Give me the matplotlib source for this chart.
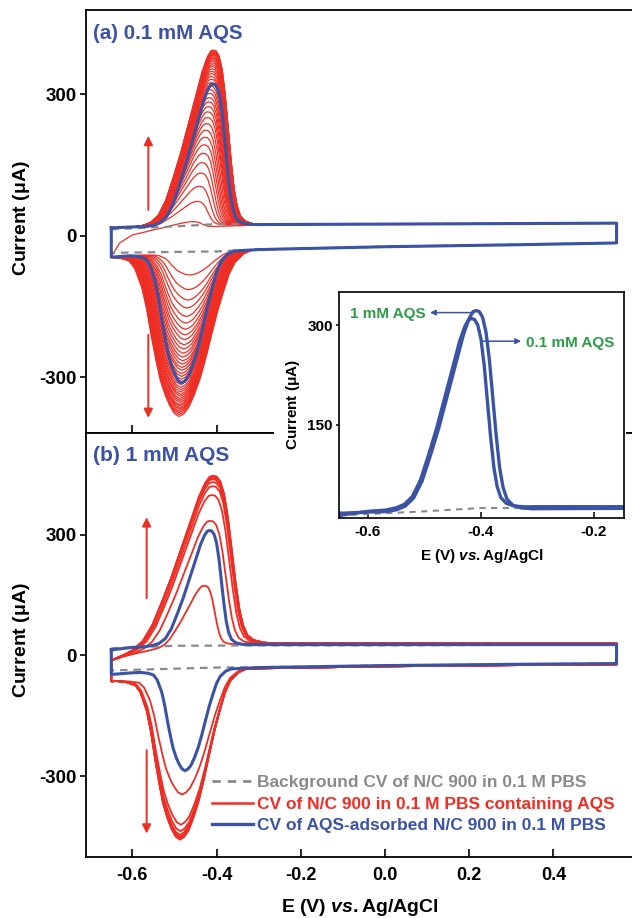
import numpy as np
import matplotlib
matplotlib.use('Agg')
import matplotlib.pyplot as plt
from matplotlib.patches import Rectangle
from matplotlib.lines import Line2D

plt.rcParams['font.family'] = ['Liberation Sans', 'DejaVu Sans']
plt.rcParams['font.weight'] = 'bold'
plt.rcParams['axes.unicode_minus'] = False
plt.rcParams['mathtext.fontset'] = 'custom'
plt.rcParams['mathtext.it'] = 'Liberation Sans:italic:bold'
plt.rcParams['mathtext.rm'] = 'Liberation Sans'

RED = '#ee2e24'
BLUE = '#3a53a4'
GRAY = '#8a8a8a'
GREEN = '#2e9b47'

# ------------------------------------------------------------------ data
E_MIN, E_MAX = -0.65, 0.55

# peak profiles (offset from peak potential, fraction of peak height)
anod_dE = [-0.16, -0.14, -0.125, -0.11, -0.095, -0.08, -0.065, -0.05, -0.035, -0.022,
           -0.012, -0.005, 0.0, 0.006, 0.012, 0.018, 0.024, 0.030, 0.036, 0.042,
           0.048, 0.055, 0.065, 0.08, 0.10]
anod_s = [0.0, 0.008, 0.025, 0.065, 0.15, 0.28, 0.42, 0.58, 0.74, 0.88,
          0.96, 0.995, 1.0, 0.995, 0.965, 0.89, 0.75, 0.56, 0.37, 0.21,
          0.11, 0.05, 0.02, 0.005, 0.0]
cath_dE = [-0.12, -0.10, -0.085, -0.075, -0.063, -0.055, -0.047, -0.039, -0.032, -0.024,
           -0.016, -0.008, 0.0, 0.008, 0.016, 0.026, 0.036, 0.046, 0.055, 0.065,
           0.075, 0.085, 0.095, 0.11, 0.125]
cath_s = [0.0, 0.01, 0.03, 0.08, 0.20, 0.33, 0.50, 0.65, 0.77, 0.86,
          0.93, 0.98, 1.0, 0.985, 0.95, 0.87, 0.77, 0.64, 0.51, 0.37,
          0.25, 0.14, 0.07, 0.02, 0.0]

# ---- panel (a): 0.1 mM AQS
a_up_E = [-0.65, -0.6, -0.5, -0.4, -0.3, 0.0, 0.55]
a_up_I = [17, 19, 21, 23, 24, 25, 27]
a_dn_E = [-0.65, -0.6, -0.5, -0.4, -0.3, 0.0, 0.3, 0.55]
a_dn_I = [-45, -42, -38, -34, -29, -23, -19, -15]
a_first_up_E = [-0.65, -0.63, -0.6, -0.55, -0.5, -0.4, -0.3, 0.0, 0.55]
a_first_up_I = [-44, -15, 2, 12, 16, 20, 23, 25, 27]

a_red_anod_peak = [30, 73, 105, 133, 155, 175, 193, 209, 224, 238,
                   251, 263, 274, 284, 293, 302, 310, 318, 325, 332,
                   338, 344, 349, 354, 359, 363, 367, 371, 374, 377,
                   380, 383, 385, 387, 389, 391, 393, 394]
a_red_anod_E = [-0.460, -0.447, -0.442, -0.438, -0.435, -0.432, -0.430, -0.428, -0.426, -0.424,
                -0.422, -0.421, -0.420, -0.419, -0.418, -0.417, -0.416, -0.415, -0.414, -0.413,
                -0.413, -0.412, -0.412, -0.411, -0.411, -0.410, -0.410, -0.410, -0.409, -0.409,
                -0.409, -0.409, -0.408, -0.408, -0.408, -0.408, -0.408, -0.408]
a_red_cath_peak = [-83, -114, -136, -153, -171, -185, -198, -210, -220, -231,
                   -240, -249, -257, -265, -272, -279, -285, -292, -298, -304,
                   -310, -315, -321, -326, -331, -336, -340, -345, -349, -353,
                   -358, -361, -365, -368, -372, -375, -379, -383]
a_red_cath_E = [-0.463, -0.466, -0.468, -0.470, -0.472, -0.473, -0.474, -0.475, -0.476, -0.477,
                -0.478, -0.479, -0.480, -0.480, -0.481, -0.482, -0.482, -0.483, -0.483, -0.484,
                -0.484, -0.485, -0.485, -0.485, -0.486, -0.486, -0.486, -0.487, -0.487, -0.487,
                -0.488, -0.488, -0.488, -0.488, -0.489, -0.489, -0.489, -0.489]
a_blue_anod = (322, -0.409)
a_blue_cath = (-312, -0.483)

a_bg_up_E = [-0.65, -0.5, -0.4, -0.3, 0.0, 0.55]
a_bg_up_I = [14, 20, 25, 25, 25, 27]
a_bg_dn_E = [-0.65, -0.5, -0.4, -0.3, 0.0, 0.55]
a_bg_dn_I = [-36, -34, -33, -29, -23, -15]

# ---- panel (b): 1 mM AQS
b_up_E = [-0.65, -0.6, -0.55, -0.5, -0.4, -0.3, 0.0, 0.55]
b_up_I = [14, 20, 23, 24, 26, 27, 27, 27]
b_dn_E = [-0.65, -0.6, -0.5, -0.4, -0.3, 0.0, 0.3, 0.55]
b_dn_I = [-47, -43, -39, -35, -30, -25, -22, -20]
b_red_up_E = [-0.65, -0.62, -0.58, -0.55, -0.5, -0.4, -0.3, 0.0, 0.55]
b_red_up_I = [-12, -2, 8, 14, 20, 26, 30, 30, 30]
b_red_dn_E = [-0.65, -0.6, -0.55, -0.5, -0.4, -0.3, 0.0, 0.3, 0.55]
b_red_dn_I = [-64, -62, -50, -42, -36, -32, -27, -24, -22]

b_red_anod_peak = [173, 334, 398, 420, 430, 437, 441, 444, 446]
b_red_anod_E = [-0.430, -0.416, -0.412, -0.410, -0.410, -0.410, -0.409, -0.409, -0.409]
b_red_anod_w = [0.85, 1.25, 1.4, 1.45, 1.5, 1.5, 1.5, 1.5, 1.5]
b_red_cath_peak = [-345, -420, -436, -445, -450, -453, -455, -456, -457]
b_red_cath_E = [-0.482, -0.485, -0.486, -0.487, -0.487, -0.487, -0.487, -0.487, -0.487]
b_red_cath_w = [1.2, 1.25, 1.25, 1.25, 1.25, 1.25, 1.25, 1.25, 1.25]
b_blue_anod = (310, -0.417)
b_blue_cath = (-286, -0.475)

b_bg_up_E = [-0.65, -0.5, -0.3, 0.0, 0.55]
b_bg_up_I = [18, 24, 25, 25, 27]
b_bg_dn_E = [-0.65, -0.4, -0.3, 0.0, 0.55]
b_bg_dn_I = [-37, -30, -29, -25, -20]

legend_labels = ['Background CV of N/C 900 in 0.1 M PBS',
                 'CV of N/C 900 in 0.1 M PBS containing AQS',
                 'CV of AQS-adsorbed N/C 900 in 0.1 M PBS']


# ------------------------------------------------------------------ helpers
def branch(base_E, base_I, Ep, peak, w, dE, s, sign):
    base_E = np.asarray(base_E, float)
    base_I = np.asarray(base_I, float)
    pe = Ep + w * np.asarray(dE, float)
    inside = pe[(pe > E_MIN) & (pe < E_MAX)]
    E = np.unique(np.concatenate([base_E, inside]))
    b = np.interp(E, base_E, base_I)
    amp = abs(peak - np.interp(Ep, base_E, base_I))
    prof = np.interp(E, pe, s, left=0, right=0)
    return E, b + sign * amp * prof


def loop(upE, upI, ap, aE, aw, dnE, dnI, cp, cE, cw):
    E1, I1 = branch(upE, upI, aE, ap, aw, anod_dE, anod_s, 1)
    E2, I2 = branch(dnE, dnI, cE, cp, cw, cath_dE, cath_s, -1)
    x = np.concatenate([E1, E2[::-1], E1[:1]])
    y = np.concatenate([I1, I2[::-1], I1[:1]])
    return x, y


def bg_loop(uE, uI, dE, dI):
    x = np.concatenate([uE, dE[::-1], uE[:1]])
    y = np.concatenate([uI, dI[::-1], uI[:1]])
    return x, y


# ------------------------------------------------------------------ figure
fig = plt.figure(figsize=(6.32, 9.18), dpi=100)
W, H = 632.0, 918.0
ax_a = fig.add_axes([86 / W, 1 - 433 / H, 551.6 / W, 423 / H])
ax_b = fig.add_axes([86 / W, 1 - 857 / H, 551.6 / W, 424 / H])

# panel (a)
amax = max(a_red_anod_peak)
cmax = max(abs(v) for v in a_red_cath_peak)
for i in range(len(a_red_anod_peak)):
    upE, upI = (a_first_up_E, a_first_up_I) if i == 0 else (a_up_E, a_up_I)
    aw = 0.8 + 0.38 * a_red_anod_peak[i] / amax
    cw = 0.8 + 0.6 * abs(a_red_cath_peak[i]) / cmax
    x, y = loop(upE, upI, a_red_anod_peak[i], a_red_anod_E[i], aw,
                a_dn_E, a_dn_I, a_red_cath_peak[i], a_red_cath_E[i], cw)
    ax_a.plot(x, y, color=RED, lw=0.9, zorder=2)
x, y = bg_loop(a_bg_up_E, a_bg_up_I, a_bg_dn_E, a_bg_dn_I)
ax_a.plot(x, y, color=GRAY, lw=1.6, dashes=(3.4, 2.6), zorder=3)
xa_blue, ya_blue = loop(a_up_E, a_up_I, a_blue_anod[0], a_blue_anod[1], 1.0,
                        a_dn_E, a_dn_I, a_blue_cath[0], a_blue_cath[1], 1.0)
ax_a.plot(xa_blue, ya_blue, color=BLUE, lw=2.2, zorder=4)

# panel (b)
for i in range(len(b_red_anod_peak)):
    x, y = loop(b_red_up_E, b_red_up_I, b_red_anod_peak[i], b_red_anod_E[i], b_red_anod_w[i],
                b_red_dn_E, b_red_dn_I, b_red_cath_peak[i], b_red_cath_E[i], b_red_cath_w[i])
    ax_b.plot(x, y, color=RED, lw=1.3, zorder=2)
x, y = bg_loop(b_bg_up_E, b_bg_up_I, b_bg_dn_E, b_bg_dn_I)
ax_b.plot(x, y, color=GRAY, lw=1.6, dashes=(3.4, 2.6), zorder=3)
xb_blue, yb_blue = loop(b_up_E, b_up_I, b_blue_anod[0], b_blue_anod[1], 0.95,
                        b_dn_E, b_dn_I, b_blue_cath[0], b_blue_cath[1], 0.88)
ax_b.plot(xb_blue, yb_blue, color=BLUE, lw=2.2, zorder=4)

# arrows
arr = dict(arrowstyle='-|>', color=RED, lw=1.4, mutation_scale=13, shrinkA=0, shrinkB=0)
ax_a.annotate('', xy=(-0.562, 212), xytext=(-0.562, 55), arrowprops=arr)
ax_a.annotate('', xy=(-0.562, -386), xytext=(-0.562, -210), arrowprops=arr)
ax_b.annotate('', xy=(-0.566, 343), xytext=(-0.566, 142), arrowprops=arr)
ax_b.annotate('', xy=(-0.566, -442), xytext=(-0.566, -235), arrowprops=arr)

for ax, ylim in ((ax_a, (-418, 479)), (ax_b, (-500, 552))):
    ax.set_xlim(-0.71, 0.6)
    ax.set_ylim(*ylim)
    ax.set_xticks([-0.6, -0.4, -0.2, 0.0, 0.2, 0.4])
    ax.set_yticks([-300, 0, 300])
    ax.tick_params(axis='x', direction='in', length=6, width=1.2, pad=7, labelsize=13)
    ax.tick_params(axis='y', direction='out', length=4.5, width=1.2, pad=2, labelsize=13.5)
    for sp in ax.spines.values():
        sp.set_linewidth(1.3)
ax_a.tick_params(axis='x', labelbottom=False)

ax_a.text(0.0127, 0.9456, '(a) 0.1 mM AQS', transform=ax_a.transAxes, color=BLUE,
          fontsize=14.8, fontweight='bold', ha='left', va='center')
ax_b.text(0.0127, 0.948, '(b) 1 mM AQS', transform=ax_b.transAxes, color=BLUE,
          fontsize=15, fontweight='bold', ha='left', va='center')

handles = [Line2D([], [], color=GRAY, lw=2.0, dashes=(3.0, 2.5)),
           Line2D([], [], color=RED, lw=1.8),
           Line2D([], [], color=BLUE, lw=2.4)]
ax_b.legend(handles, legend_labels, loc='lower left', bbox_to_anchor=(0.2284, 0.0566),
            frameon=False, handlelength=2.35, handletextpad=0.25,
            labelspacing=0.36, borderpad=0, borderaxespad=0,
            labelcolor=[GRAY, RED, BLUE], prop={'weight': 'bold', 'size': 12.5})

fig.text(22 / W, 1 - 218 / H, r'Current $\mathrm{(μA)}$', rotation=90, ha='center', va='center',
         fontsize=14, fontweight='bold')
fig.text(22 / W, 1 - 640 / H, r'Current $\mathrm{(μA)}$', rotation=90, ha='center', va='center',
         fontsize=14, fontweight='bold')
fig.text(360 / W, 1 - 908 / H, r'E (V) $\mathit{vs.}$Ag/AgCl', ha='center', va='center',
         fontsize=14, fontweight='bold')

# white box behind the inset
fig.add_artist(Rectangle((274 / W, 1 - 570 / H), (626 - 274) / W, (570 - 262) / H,
                         transform=fig.transFigure, facecolor='white', edgecolor='none',
                         zorder=1))

# inset
ax_in = fig.add_axes([339 / W, 1 - 518 / H, 285 / W, 226 / H])
ax_in.set_zorder(2)
x, y = bg_loop(a_bg_up_E, a_bg_up_I, a_bg_dn_E, a_bg_dn_I)
ax_in.plot(x, y, color=GRAY, lw=1.5, dashes=(3.0, 2.6))
ax_in.plot(xb_blue, yb_blue, color=BLUE, lw=2.4)
ax_in.plot(xa_blue, ya_blue, color=BLUE, lw=2.4)
ax_in.set_xlim(-0.651, -0.147)
ax_in.set_ylim(10, 350)
ax_in.set_xticks([-0.6, -0.4, -0.2])
ax_in.set_yticks([150, 300])
ax_in.tick_params(axis='x', direction='in', length=4, width=1.1, pad=5, labelsize=11)
ax_in.tick_params(axis='y', direction='out', length=2.5, width=1.1, pad=2, labelsize=11)
for sp in ax_in.spines.values():
    sp.set_linewidth(1.2)
ax_in.text(-0.498, 316.5, '1 mM AQS', color=GREEN, fontsize=11, fontweight='bold',
           ha='right', va='center')
ax_in.text(-0.32, 273.5, '0.1 mM AQS', color=GREEN, fontsize=11, fontweight='bold',
           ha='left', va='center')
arr2 = dict(arrowstyle='-|>', color=BLUE, lw=1.1, mutation_scale=8, shrinkA=0, shrinkB=0)
ax_in.annotate('', xy=(-0.490, 319), xytext=(-0.4115, 319), arrowprops=arr2)
ax_in.annotate('', xy=(-0.329, 276), xytext=(-0.397, 276), arrowprops=arr2)
fig.text(293 / W, 1 - 404 / H, r'Current $\mathrm{(μA)}$', rotation=90, ha='center', va='center',
         fontsize=11, fontweight='bold', zorder=5)
fig.text(482 / W, 1 - 556 / H, r'E (V) $\mathit{vs.}$Ag/AgCl', ha='center', va='center',
         fontsize=11, fontweight='bold', zorder=5)

fig.savefig('out.png', dpi=100)
